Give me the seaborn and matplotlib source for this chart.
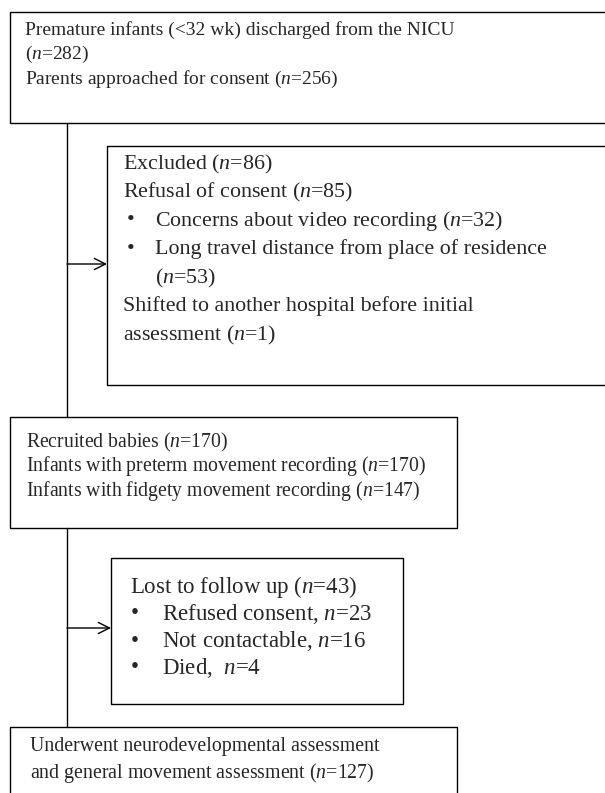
import matplotlib
matplotlib.use("Agg")
import matplotlib.pyplot as plt
from matplotlib.patches import Rectangle
import seaborn as sns

sns.set_theme(style="white")
plt.rcParams['font.family'] = ['Liberation Serif', 'DejaVu Serif']
plt.rcParams['mathtext.fontset'] = 'custom'
plt.rcParams['mathtext.rm'] = 'Liberation Serif'
plt.rcParams['mathtext.it'] = 'Liberation Serif:italic'

# === counts in the flow ===
n_discharged = 282
n_approached = 256
n_excluded = 86
n_refused = 85
n_video = 32
n_travel = 53
n_shifted = 1
n_recruited = 170
n_preterm = 170
n_fidgety = 147
n_lost = 43
n_lost_refused = 23
n_lost_contact = 16
n_died = 4
n_final = 127

def nn(v):
    return r"($n$=%d)" % v

# each line: (text, kind)  kind: False = plain, True = bullet, "cont" = bullet continuation
box1_lines = [
    ("Premature infants (<32 wk) discharged from the NICU", False),
    (nn(n_discharged), False),
    ("Parents approached for consent " + nn(n_approached), False),
]
box2_lines = [
    ("Excluded " + nn(n_excluded), False),
    ("Refusal of consent " + nn(n_refused), False),
    ("Concerns about video recording " + nn(n_video), True),
    ("Long travel distance from place of residence", True),
    (nn(n_travel), "cont"),
    ("Shifted to another hospital before initial", False),
    ("assessment " + nn(n_shifted), False),
]
box3_lines = [
    ("Recruited babies " + nn(n_recruited), False),
    ("Infants with preterm movement recording " + nn(n_preterm), False),
    ("Infants with fidgety movement recording " + nn(n_fidgety), False),
]
box4_lines = [
    ("Lost to follow up " + nn(n_lost), False),
    (r"Refused consent, $n$=%d" % n_lost_refused, True),
    (r"Not contactable, $n$=%d" % n_lost_contact, True),
    (r"Died,  $n$=%d" % n_died, True),
]
box5_lines = [
    ("Underwent neurodevelopmental assessment", False),
    ("and general movement assessment " + nn(n_final), False),
]

W, H = 605, 793
fig = plt.figure(figsize=(W / 100, H / 100), dpi=100)
ax = fig.add_axes([0, 0, 1, 1])
ax.set_xlim(0, W)
ax.set_ylim(H, 0)
ax.axis("off")

LW = 1.0


def box(x0, y0, x1, y1):
    ax.add_patch(Rectangle((x0, y0), x1 - x0, y1 - y0, fill=False,
                           edgecolor="black", linewidth=LW, clip_on=True))


def write(lines, x, y0, step, bx, tx, fs):
    for i, (txt, kind) in enumerate(lines):
        y = y0 + i * step
        if kind is True:
            ax.text(bx, y, "\u2022", fontsize=fs, va="center", ha="left")
            ax.text(tx, y, txt, fontsize=fs, va="center", ha="left")
        elif kind == "cont":
            ax.text(tx, y, txt, fontsize=fs, va="center", ha="left")
        else:
            ax.text(x, y, txt, fontsize=fs, va="center", ha="left")


# boxes
box(10, 12, 640, 123)
box(107, 146, 640, 385)
box(10, 417, 457, 528)
box(111, 558, 403, 704)
box(10, 727, 457, 830)

# main vertical line
ax.plot([67, 67], [123, 417], color="black", lw=LW)
ax.plot([67, 67], [528, 727], color="black", lw=LW)

# side arrows
for ya, xe in [(264, 107), (628, 111)]:
    ax.annotate("", xy=(xe, ya), xytext=(67, ya),
                arrowprops=dict(arrowstyle="->", color="black", lw=LW,
                                shrinkA=0, shrinkB=0, mutation_scale=20))

write(box1_lines, 25, 30, 24.5, 0, 0, 14)
write(box2_lines, 123, 164, 28.5, 127, 155, 15.8)
write(box3_lines, 26, 442, 24.5, 0, 0, 14.2)
write(box4_lines, 130, 587, 27, 131, 162, 16.5)
write(box5_lines, 30, 746, 27, 0, 0, 14.3)

plt.savefig("out.png", dpi=100)
